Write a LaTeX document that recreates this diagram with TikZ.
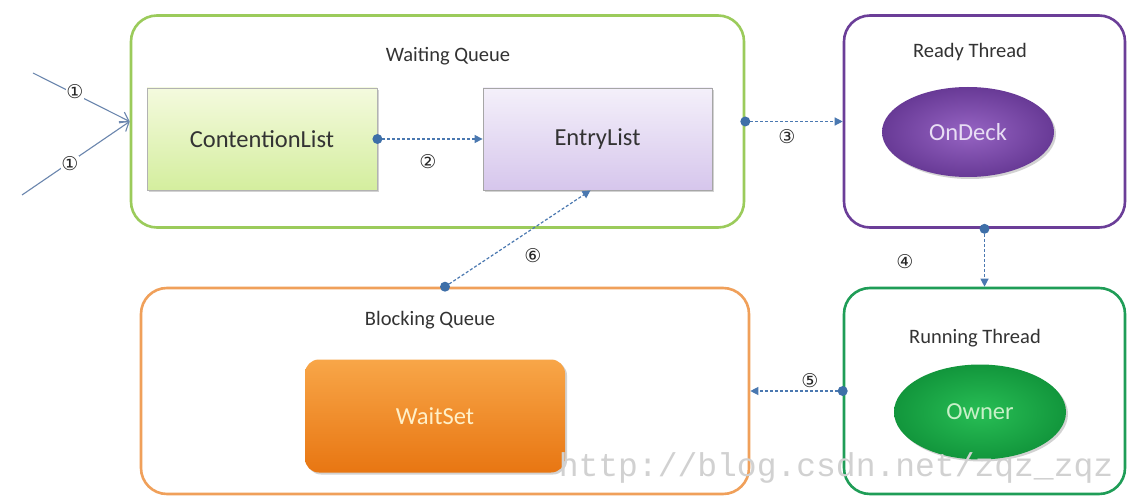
\documentclass[tikz,border=0pt]{standalone}
\usepackage{fontspec}
\setmainfont{Carlito}
\newfontfamily\symfont{DejaVu Sans}
\newfontfamily\wmfont{Liberation Mono}
\usetikzlibrary{arrows.meta,shadows,calc,shapes.geometric}
\definecolor{wqgreen}{HTML}{9BCB5B}
\definecolor{rtpurple}{HTML}{6B3E98}
\definecolor{rngreen}{HTML}{1F9D57}
\definecolor{bqorange}{HTML}{F0A05A}
\definecolor{connblue}{HTML}{4A78B0}
\definecolor{dotblue}{HTML}{3E6FA8}
\definecolor{inblue}{HTML}{6B86AE}
\begin{document}
\begin{tikzpicture}[x=1pt,y=-1pt,
  container/.style={draw, line width=2.6pt, rounded corners=26pt, inner sep=0pt},
  title/.style={font=\fontsize{20.5}{22}\selectfont, text=black!80},
  inner/.style={font=\fontsize{24.5}{27}\selectfont},
  listbox/.style={draw, line width=0.8pt, inner sep=0pt, drop shadow={opacity=0.35, shadow xshift=2pt, shadow yshift=-2pt}},
  blob/.style={ellipse, inner sep=0pt, drop shadow={opacity=0.35, shadow xshift=2pt, shadow yshift=-2pt}},
  conn/.style={connblue, line width=1.2pt, densely dashed, -{Triangle[length=8pt,width=8pt]}},
  dotmark/.style={circle, fill=dotblue, inner sep=0pt, minimum size=10pt},
  num/.style={font=\symfont\fontsize{19}{21}\selectfont, text=black!85},
  inline/.style={inblue, line width=1.1pt, -{Straight Barb[length=8pt,width=12pt]}}
]
\useasboundingbox[fill=white] (0,0) rectangle (1129,497);

% containers
\node[container, draw=wqgreen, minimum width=613pt, minimum height=212pt] (wq) at (437.5,121.5) {};
\node[container, draw=rtpurple, minimum width=281pt, minimum height=212pt] (rt) at (984.5,121.5) {};
\node[container, draw=rngreen, minimum width=281pt, minimum height=206pt] (rn) at (984.5,391) {};
\node[container, draw=bqorange, minimum width=608pt, minimum height=206pt] (bq) at (445,391) {};

% titles
\node[title] (wqt) at (448,56) {Waiting Queue};
\node[title] (rtt) at (970,52) {Ready Thread};
\node[title] (rnt) at (975,338) {Running Thread};
\node[title] (bqt) at (430,320) {Blocking Queue};

% inner elements
\node[listbox, draw=black!30, top color={rgb,255:red,244;green,250;blue,222}, bottom color={rgb,255:red,212;green,238;blue,158}, minimum width=230pt, minimum height=102pt, inner, text=black!80] (cl) at (262,139) {ContentionList};
\node[listbox, draw=black!35, top color={rgb,255:red,244;green,240;blue,250}, bottom color={rgb,255:red,214;green,198;blue,236}, minimum width=229pt, minimum height=102pt, inner, text=black!80] (el) at (597.5,139) {EntryList};
\node[blob, inner color={rgb,255:red,150;green,100;blue,195}, outer color={rgb,255:red,104;green,58;blue,150}, minimum width=172pt, minimum height=90pt, inner, text={rgb,255:red,232;green,222;blue,244}] (od) at (968,132) {OnDeck};
\node[blob, inner color={rgb,255:red,40;green,190;blue,85}, outer color={rgb,255:red,18;green,150;blue,60}, minimum width=172pt, minimum height=95pt, inner, text={rgb,255:red,200;green,240;blue,200}] (ow) at (980,412) {Owner};
\node[listbox, draw=none, rounded corners=14pt, top color={rgb,255:red,248;green,166;blue,72}, bottom color={rgb,255:red,232;green,118;blue,18}, minimum width=260pt, minimum height=113pt, inner, text={rgb,255:red,255;green,240;blue,200}] (ws) at (435,416) {WaitSet};

% inputs (1)
\coordinate (in1) at (33,73);
\coordinate (in2) at (22,195);
\draw[inline] (in1) -- (wq.west);
\draw[inline] (in2) -- (wq.west);
\node[num, fill=white, inner sep=0.5pt] (n1a) at (75,92) {①};
\node[num, fill=white, inner sep=0.5pt] (n1b) at (70,164) {①};

% (2)
\draw[conn] (cl.east) -- (el.west);
\node[dotmark] (d2) at (cl.east) {};
\node[num] (n2) at (428,162) {②};

% (3)
\draw[conn] (wq.east) -- (rt.west);
\node[dotmark] (d3) at (wq.east) {};
\node[num] (n3) at (787,137) {③};

% (4)
\draw[conn] (rt.south) -- (rn.north);
\node[dotmark] (d4) at (rt.south) {};
\node[num] (n4) at (905,262) {④};

% (5)
\draw[conn] (rn.west) -- (bq.east);
\node[dotmark] (d5) at (rn.west) {};
\node[num] (n5) at (810,381) {⑤};

% (6)
\draw[conn] (bq.north) -- ($(el.south)+(-7,0)$);
\node[dotmark] (d6) at (bq.north) {};
\node[num] (n6) at (533,256) {⑥};

% watermark
\node[font=\wmfont\fontsize{33}{36}\selectfont, text=black!18] (wm) at (836,468) {http://blog.csdn.net/zqz\_zqz};
\end{tikzpicture}
\end{document}
